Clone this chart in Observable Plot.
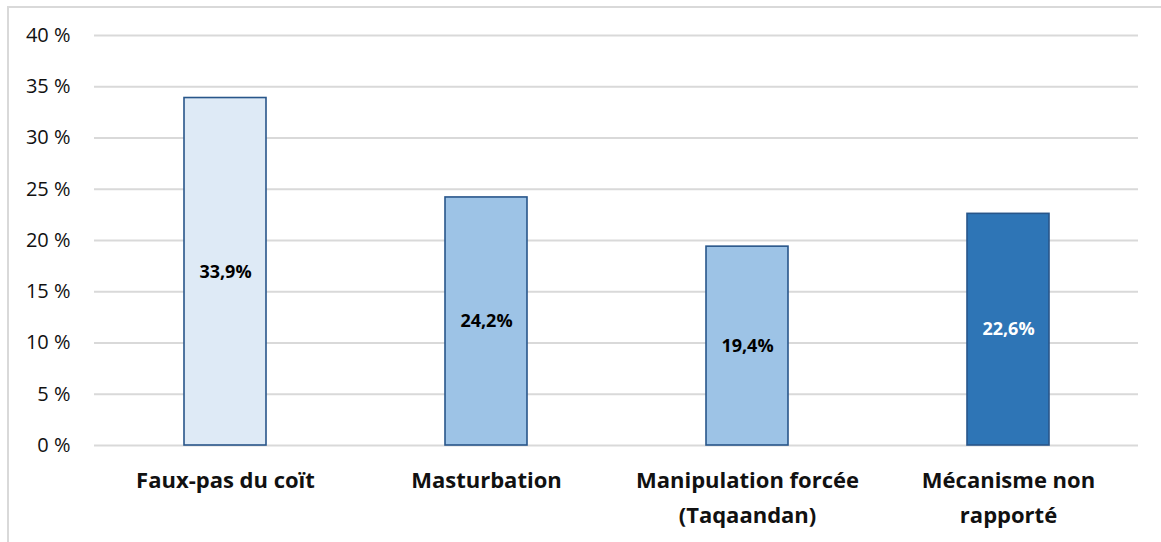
<!DOCTYPE html>
<html>
<head>
<meta charset="utf-8">
<script src="https://cdn.jsdelivr.net/npm/d3@7"></script>
<script src="https://cdn.jsdelivr.net/npm/@observablehq/plot@0.6"></script>
<style>
  html, body { margin: 0; padding: 0; background: #fff; }
  #wrap { position: relative; width: 1161px; height: 542px; overflow: hidden; }
  #border { position: absolute; left: 7px; top: 6px; width: 1170px; height: 560px; border: 2px solid #d9d9d9; box-sizing: border-box; pointer-events: none; }
  #chart { position: absolute; left: 0; top: 0; }
</style>
</head>
<body>
<div id="wrap"><div id="border"></div><div id="chart"></div></div>
<script>
const categories = ["Faux-pas du coït", "Masturbation", "Manipulation forcée\n(Taqaandan)", "Mécanisme non\nrapporté"];
const values = [33.9, 24.2, 19.4, 22.6];
const valueLabels = ["33,9%", "24,2%", "19,4%", "22,6%"];
const fills = ["#deeaf6", "#9dc3e6", "#9dc3e6", "#2e75b6"];
const labelColors = ["#000000", "#000000", "#000000", "#ffffff"];
const yTicks = [0, 5, 10, 15, 20, 25, 30, 35, 40];

const data = categories.map((c, i) => ({
  cat: c, value: values[i], label: valueLabels[i], fill: fills[i], color: labelColors[i]
}));

const chart = Plot.plot({
  width: 1161,
  height: 542,
  marginLeft: 94,
  marginRight: 23,
  marginTop: 35,
  marginBottom: 97,
  style: { fontFamily: "'Open Sans', sans-serif", background: "transparent" },
  x: { domain: categories, paddingInner: 0.686, paddingOuter: 0.343, label: null },
  y: { domain: [0, 40], label: null },
  marks: [
    Plot.gridY(yTicks, { stroke: "#d9d9d9", strokeOpacity: 1, strokeWidth: 2 }),
    Plot.barY(data, { x: "cat", y: "value", fill: "fill", stroke: "#28568a", strokeWidth: 1.6 }),
    Plot.text(data, { x: "cat", y: d => d.value / 2, text: "label", fill: "color", fontSize: 18, fontWeight: "bold" }),
    Plot.axisY(yTicks, { tickSize: 0, tickPadding: 24, fontSize: 20, tickFormat: d => d + " %", fill: "#111" }),
    Plot.axisX({ tickSize: 0, tickPadding: 17, fontSize: 22, fontWeight: "bold", lineHeight: 1.62, fill: "#111" })
  ]
});
document.getElementById("chart").appendChild(chart);
</script>
</body>
</html>
